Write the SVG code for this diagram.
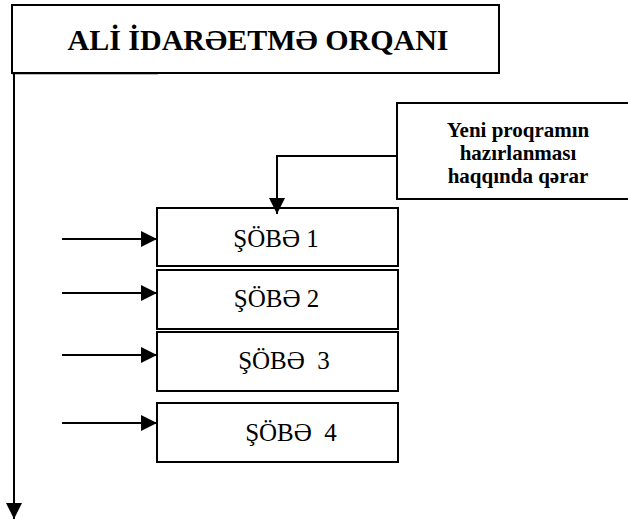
<svg xmlns="http://www.w3.org/2000/svg" width="628" height="519" viewBox="0 0 628 519">
<style>
.box{fill:#fff;stroke:#000;stroke-width:2}
.ln{fill:none;stroke:#000;stroke-width:2}
text{font-family:'Liberation Serif','DejaVu Serif',serif;fill:#000}
.h{font-weight:bold}
.s{font-size:25px}
</style>
<defs>
<marker id="ah" markerUnits="userSpaceOnUse" markerWidth="16" markerHeight="16" viewBox="0 0 16 16" refX="16" refY="8" orient="auto">
<path d="M0,0 L16,8 L0,16 Z" fill="#000"/>
</marker>
</defs>
<rect width="628" height="519" fill="#fff"/>
<g id="top">
<rect class="box" x="12" y="5" width="487" height="68"/>
<text class="h" x="258" y="50" font-size="30" text-anchor="middle">ALİ İDARƏETMƏ ORQANI</text>
</g>
<g id="decision">
<rect class="box" x="397" y="103" width="240" height="96"/>
<text class="h" x="518" y="137" font-size="21" text-anchor="middle">Yeni proqramın</text>
<text class="h" x="518" y="160" font-size="21" text-anchor="middle">hazırlanması</text>
<text class="h" x="518" y="183" font-size="21" text-anchor="middle">haqqında qərar</text>
</g>
<g id="sobe1">
<rect class="box" x="157" y="208" width="241" height="58"/>
<text class="s" x="276" y="247" text-anchor="middle">ŞÖBƏ 1</text>
</g>
<g id="sobe2">
<rect class="box" x="157" y="270" width="241" height="59"/>
<text class="s" x="276.5" y="307" text-anchor="middle">ŞÖBƏ 2</text>
</g>
<g id="sobe3">
<rect class="box" x="157" y="332" width="241" height="59"/>
<text class="s" x="284" y="369" text-anchor="middle" xml:space="preserve">ŞÖBƏ  3</text>
</g>
<g id="sobe4">
<rect class="box" x="157" y="403" width="241" height="59"/>
<text class="s" x="291" y="441" text-anchor="middle" xml:space="preserve">ŞÖBƏ  4</text>
</g>
<g id="connectors">
<line x1="12" y1="74.5" x2="158" y2="74.5" stroke="#bbb" stroke-width="1"/>
<line class="ln" x1="14" y1="74" x2="14" y2="519" marker-end="url(#ah)"/>
<polyline class="ln" points="397,156 277,156 277,214" marker-end="url(#ah)"/>
<line class="ln" x1="62" y1="239" x2="157" y2="239" marker-end="url(#ah)"/>
<line class="ln" x1="62" y1="293" x2="157" y2="293" marker-end="url(#ah)"/>
<line class="ln" x1="62" y1="355" x2="157" y2="355" marker-end="url(#ah)"/>
<line class="ln" x1="62" y1="423" x2="157" y2="423" marker-end="url(#ah)"/>
</g>
</svg>
